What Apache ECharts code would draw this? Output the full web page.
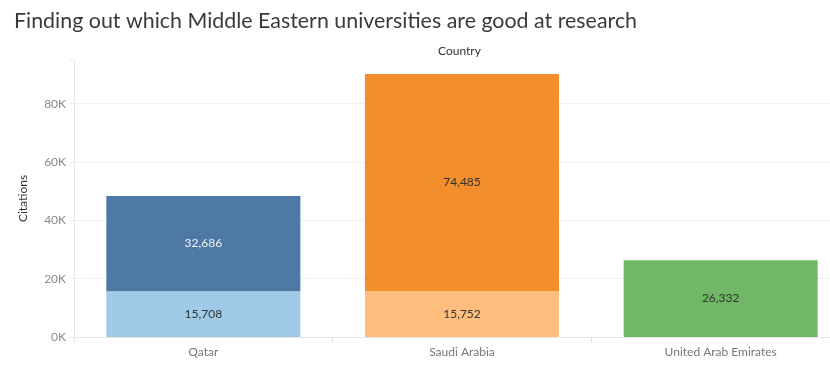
<!DOCTYPE html>
<html>
<head>
<meta charset="utf-8">
<script src="https://cdn.jsdelivr.net/npm/echarts@6/dist/echarts.min.js"></script>
<style>html,body{margin:0;padding:0;background:#fff;overflow:hidden;width:830px;height:380px;}#c{width:850px;height:380px;}</style>
</head>
<body>
<div id="c"></div>
<script>
const categories = ['Qatar', 'Saudi Arabia', 'United Arab Emirates'];
const lowerValues = [15708, 15752, 26332];
const upperValues = [32686, 74485, null];
const lowerColors = ['#a0cbe8', '#ffbe7d', '#71b866'];
const upperColors = ['#4e79a7', '#f28e2b', '#71b866'];
const upperLabelColors = ['#f2f2f2', '#333333', '#333333'];
const yTicks = [0, 20000, 40000, 60000, 80000];

const chart = echarts.init(document.getElementById('c'), null, {renderer: 'canvas'});
const font = 'Lato, "Open Sans", sans-serif';
chart.setOption({
  animation: false,
  title: {
    text: 'Finding out which Middle Eastern universities are good at research',
    left: 9, top: 6,
    textStyle: {fontFamily: font, fontSize: 21.4, fontWeight: 'normal', color: '#3a3a3a'}
  },
  graphic: [{
    type: 'text', left: 438, top: 45,
    style: {text: 'Country', fontFamily: font, fontSize: 12, fill: '#333'}
  }],
  grid: {left: 74, top: 60, width: 776, height: 277},
  xAxis: {
    type: 'category', data: categories,
    axisLine: {show: true, lineStyle: {color: '#e6e6e6'}},
    axisTick: {show: true, length: 6, alignWithLabel: false, lineStyle: {color: '#e6e6e6'}},
    axisLabel: {color: '#777', fontFamily: font, fontSize: 12, margin: 9},
    splitLine: {show: false}
  },
  yAxis: {
    type: 'value', min: 0, max: 95000, interval: 20000,
    name: 'Citations', nameLocation: 'middle', nameGap: 45,
    nameTextStyle: {color: '#333', fontFamily: font, fontSize: 12},
    axisLine: {show: true, lineStyle: {color: '#e6e6e6'}},
    axisTick: {show: true, length: 5, lineStyle: {color: '#eeeeee'}},
    axisLabel: {
      color: '#888', fontFamily: font, fontSize: 12, margin: 8,
      formatter: v => yTicks.includes(v) ? (v / 1000) + 'K' : ''
    },
    splitLine: {show: true, lineStyle: {color: ['#f0f0f0', '#f0f0f0', '#f0f0f0', '#f0f0f0', '#f0f0f0', 'rgba(0,0,0,0)']}}
  },
  series: [
    {
      type: 'bar', stack: 's', barWidth: 194,
      data: lowerValues.map((v, i) => ({value: v, itemStyle: {color: lowerColors[i]}})),
      label: {show: true, position: 'inside', color: '#333', fontFamily: font, fontSize: 12,
        formatter: p => p.value.toLocaleString('en-US')}
    },
    {
      type: 'bar', stack: 's', barWidth: 194,
      data: upperValues.map((v, i) => ({value: v, itemStyle: {color: upperColors[i]},
        label: {color: upperLabelColors[i]}})),
      label: {show: true, position: 'inside', fontFamily: font, fontSize: 12,
        formatter: p => p.value == null ? '' : p.value.toLocaleString('en-US')}
    }
  ]
});
</script>
</body>
</html>
